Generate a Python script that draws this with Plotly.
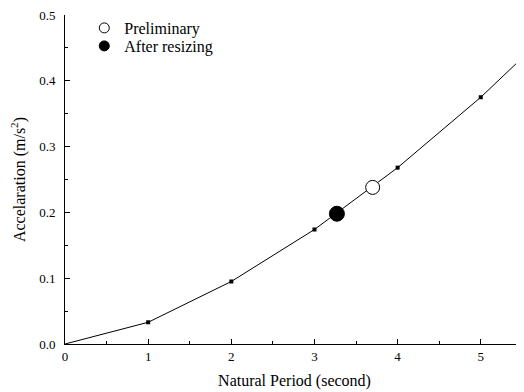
import plotly.graph_objects as go

period = [0, 1, 2, 3, 4, 5, 6]
accel = [0.0, 0.033, 0.095, 0.174, 0.268, 0.375, 0.495]
marked_period = [1, 2, 3, 4, 5]
marked_accel = [0.033, 0.095, 0.174, 0.268, 0.375]
prelim_period = [3.70]
prelim_accel = [0.238]
resized_period = [3.27]
resized_accel = [0.198]

x_ticks = [0, 1, 2, 3, 4, 5]
y_ticks = [0.0, 0.1, 0.2, 0.3, 0.4, 0.5]

font = "Liberation Serif"

fig = go.Figure()
fig.add_trace(go.Scatter(x=period, y=accel, mode="lines",
                         line=dict(color="black", width=1), showlegend=False))
fig.add_trace(go.Scatter(x=marked_period, y=marked_accel, mode="markers",
                         marker=dict(symbol="square", size=4, color="black"),
                         showlegend=False))
fig.add_trace(go.Scatter(x=prelim_period, y=prelim_accel, mode="markers",
                         showlegend=False,
                         marker=dict(symbol="circle", size=14, color="white",
                                     line=dict(color="black", width=1))))
fig.add_trace(go.Scatter(x=resized_period, y=resized_accel, mode="markers",
                         showlegend=False,
                         marker=dict(symbol="circle", size=15, color="black",
                                     line=dict(color="black", width=1))))
# legend entries (small symbols, as in the reference legend)
fig.add_trace(go.Scatter(x=[None], y=[None], mode="markers", name="Preliminary",
                         legend="legend",
                         marker=dict(symbol="circle", size=10, color="white",
                                     line=dict(color="black", width=1))))
fig.add_trace(go.Scatter(x=[None], y=[None], mode="markers", name="After resizing",
                         legend="legend2",
                         marker=dict(symbol="circle", size=10, color="black",
                                     line=dict(color="black", width=1))))

leg = dict(xanchor="left", yanchor="middle", bgcolor="rgba(0,0,0,0)",
           font=dict(size=16, family=font), itemsizing="trace")

fig.update_layout(
    width=516, height=384,
    margin=dict(l=57, r=0, t=7, b=48, autoexpand=False),
    paper_bgcolor="white", plot_bgcolor="white",
    font=dict(family=font, size=13, color="black"),
    legend=dict(x=0.042, y=0.9605, **leg),
    legend2=dict(x=0.042, y=0.9058, **leg),
    xaxis=dict(range=[0, 5.52], tickvals=x_ticks, ticks="inside", ticklen=5,
               tickcolor="black", showline=True, linecolor="black", linewidth=1,
               showgrid=False, zeroline=False,
               ticklabelstandoff=0, ticklabeloverflow="allow",
               minor=dict(ticks="inside", dtick=0.5, ticklen=3, tickcolor="black"),
               title=dict(text="Natural Period (second)", standoff=12,
                          font=dict(size=16, family=font))),
    yaxis=dict(range=[0, 0.5], tickvals=y_ticks, tickformat=".1f",
               ticks="inside", ticklen=5, tickcolor="black",
               showline=True, linecolor="black", linewidth=1,
               showgrid=False, zeroline=False,
               ticklabelstandoff=6, ticklabeloverflow="allow",
               minor=dict(ticks="inside", dtick=0.05, ticklen=3, tickcolor="black"),
               title=dict(text="Accelaration (m/s<sup>2</sup>)", standoff=10,
                          font=dict(size=16, family=font))),
)

fig.write_html("out.html")
